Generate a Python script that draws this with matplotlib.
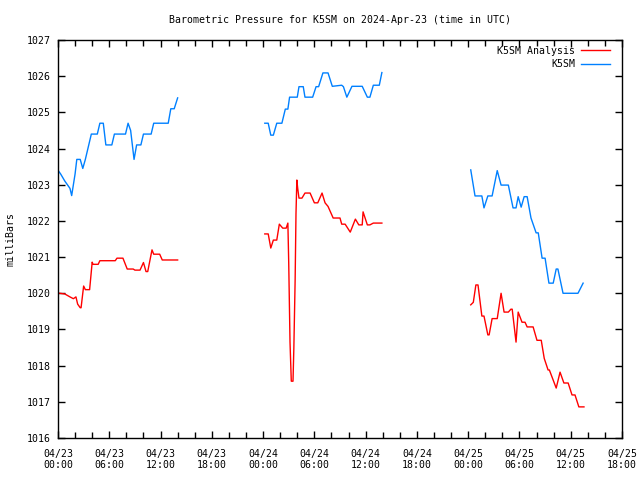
#!/usr/bin/env python3

import numpy as np
import pandas as pd
import matplotlib
matplotlib.use('Agg')
import matplotlib.pyplot as plt
import matplotlib.dates as mdates

# hours since 2024-04-23 00:00 UTC, pressure in mb
# three reporting windows, gaps in between
obs1_h = [0.0, 0.3, 0.8, 1.4, 1.6, 2.0, 2.2, 2.6, 2.9, 3.2, 3.6, 3.9, 4.6, 4.9, 5.3, 5.6,
          6.3, 6.6, 7.9, 8.2, 8.5, 8.9, 9.2, 9.7, 10.0, 10.9, 11.2, 12.9, 13.2, 13.6, 14.0]
obs1_v = [1023.4, 1023.3, 1023.1, 1022.9, 1022.7, 1023.3, 1023.7, 1023.7, 1023.45, 1023.7,
          1024.1, 1024.4, 1024.4, 1024.7, 1024.7, 1024.1, 1024.1, 1024.4, 1024.4, 1024.7,
          1024.5, 1023.7, 1024.1, 1024.1, 1024.4, 1024.4, 1024.7, 1024.7, 1025.1, 1025.1, 1025.4]

obs2_h = [24.2, 24.6, 24.9, 25.2, 25.6, 26.2, 26.6, 26.9, 27.1, 28.0, 28.2, 28.7, 28.9, 29.8,
          30.2, 30.5, 31.0, 31.6, 32.1, 33.2, 33.4, 33.8, 34.4, 35.6, 36.2, 36.5, 36.9, 37.6, 37.9]
obs2_v = [1024.7, 1024.7, 1024.37, 1024.37, 1024.7, 1024.7, 1025.09, 1025.09, 1025.42, 1025.42,
          1025.71, 1025.71, 1025.42, 1025.42, 1025.71, 1025.71, 1026.09, 1026.09, 1025.72, 1025.75,
          1025.71, 1025.42, 1025.72, 1025.72, 1025.42, 1025.42, 1025.75, 1025.75, 1026.1]

obs3_h = [48.3, 48.8, 49.6, 49.85, 50.3, 50.8, 51.4, 51.85, 52.7, 53.25, 53.6, 53.85, 54.2,
          54.55, 54.9, 55.35, 55.95, 56.2, 56.65, 57.0, 57.45, 57.95, 58.3, 58.5, 59.1, 60.85, 61.45]
obs3_v = [1023.41, 1022.69, 1022.69, 1022.36, 1022.69, 1022.69, 1023.39, 1022.99, 1022.99,
          1022.36, 1022.36, 1022.67, 1022.38, 1022.67, 1022.67, 1022.08, 1021.67, 1021.67,
          1020.97, 1020.97, 1020.28, 1020.28, 1020.67, 1020.67, 1020.0, 1020.0, 1020.28]

ana1_h = [0.2, 0.8, 1.4, 1.8, 2.1, 2.3, 2.6, 2.7, 3.0, 3.2, 3.7, 4.0, 4.1, 4.7, 4.9, 6.7, 6.9,
          7.6, 8.1, 8.8, 9.0, 9.6, 10.0, 10.3, 10.5, 11.0, 11.2, 11.9, 12.2, 14.0]
ana1_v = [1020.0, 1019.98, 1019.9, 1019.85, 1019.9, 1019.7, 1019.6, 1019.6, 1020.2, 1020.1,
          1020.1, 1020.86, 1020.8, 1020.8, 1020.9, 1020.9, 1020.97, 1020.97, 1020.67, 1020.67,
          1020.64, 1020.64, 1020.85, 1020.6, 1020.6, 1021.2, 1021.08, 1021.08, 1020.92, 1020.92]

ana2_h = [24.2, 24.6, 24.9, 25.2, 25.6, 25.9, 26.3, 26.7, 26.9, 27.0, 27.15, 27.3, 27.5, 27.6,
          27.75, 27.85, 27.95, 28.05, 28.2, 28.55, 28.9, 29.5, 30.0, 30.4, 30.9, 31.25, 31.6,
          32.2, 33.0, 33.2, 33.6, 34.2, 34.8, 35.2, 35.6, 35.7, 36.2, 36.5, 36.9, 37.9]
ana2_v = [1021.64, 1021.64, 1021.25, 1021.47, 1021.47, 1021.91, 1021.8, 1021.8, 1021.94,
          1020.84, 1018.65, 1017.57, 1017.57, 1018.49, 1020.37, 1022.2, 1023.13, 1022.9,
          1022.63, 1022.63, 1022.77, 1022.77, 1022.5, 1022.5, 1022.77, 1022.5, 1022.4,
          1022.08, 1022.08, 1021.91, 1021.91, 1021.69, 1022.05, 1021.89, 1021.89, 1022.25,
          1021.89, 1021.89, 1021.94, 1021.94]

ana3_h = [48.3, 48.6, 48.9, 49.15, 49.6, 49.85, 50.3, 50.45, 50.8, 51.4, 51.85, 52.2, 52.7,
          53.0, 53.15, 53.6, 53.85, 54.3, 54.65, 54.9, 55.6, 56.05, 56.55, 56.9, 57.35, 57.5,
          58.3, 58.75, 59.2, 59.7, 60.15, 60.5, 60.95, 61.55]
ana3_v = [1019.68, 1019.75, 1020.23, 1020.23, 1019.37, 1019.37, 1018.85, 1018.85, 1019.3,
          1019.3, 1020.0, 1019.48, 1019.48, 1019.56, 1019.56, 1018.65, 1019.48, 1019.2, 1019.2,
          1019.07, 1019.07, 1018.7, 1018.7, 1018.2, 1017.88, 1017.88, 1017.38, 1017.82,
          1017.52, 1017.52, 1017.19, 1017.19, 1016.86, 1016.86]

START = pd.Timestamp('2024-04-23 00:00')
END = pd.Timestamp('2024-04-25 18:00')


def join(*segs):
    # NaN between windows so the line breaks
    hh, vv = [], []
    for h, v in segs:
        if hh:
            hh.append(hh[-1] + 0.01)
            vv.append(np.nan)
        hh += list(h)
        vv += list(v)
    return START + pd.to_timedelta(hh, unit='h'), np.array(vv)


t_obs, v_obs = join((obs1_h, obs1_v), (obs2_h, obs2_v), (obs3_h, obs3_v))
t_ana, v_ana = join((ana1_h, ana1_v), (ana2_h, ana2_v), (ana3_h, ana3_v))

FONT = 'DejaVu Sans Mono'
FS = 7.1
plt.rcParams['font.family'] = FONT
plt.rcParams['font.size'] = FS

fig = plt.figure(figsize=(6.4, 4.8), dpi=100)
ax = fig.add_axes([58 / 640, 42 / 480, 564 / 640, 398 / 480])

l1, = ax.plot(t_ana, v_ana, color='#ff0000', lw=1, label='K5SM Analysis')
l2, = ax.plot(t_obs, v_obs, color='#0080ff', lw=1, label='K5SM')

ax.set_xlim(START, END)
ax.set_ylim(1016, 1027)
ax.set_yticks(np.arange(1016, 1028, 1))
ax.xaxis.set_major_locator(mdates.HourLocator(byhour=range(0, 24, 6)))
ax.xaxis.set_minor_locator(mdates.HourLocator(byhour=range(0, 24, 2)))
ax.xaxis.set_major_formatter(mdates.DateFormatter('%m/%d\n%H:%M'))

ax.tick_params(which='both', direction='in', top=True, right=True, width=1, color='black')
ax.tick_params(which='major', length=5)
ax.tick_params(which='minor', length=4)
ax.tick_params(axis='x', labelsize=FS, pad=8)
ax.tick_params(axis='y', labelsize=FS, pad=5)
for lab in ax.get_xticklabels():
    lab.set_linespacing(1.15)
for s in ax.spines.values():
    s.set_linewidth(1)

ax.set_ylabel('milliBars', fontsize=FS, labelpad=8)
ax.set_title('Barometric Pressure for K5SM on 2024-Apr-23 (time in UTC)', fontsize=FS, pad=12)

leg = ax.legend(handles=[l1, l2], loc='upper right', bbox_to_anchor=(0.99, 1.0),
                frameon=False, markerfirst=False, fontsize=FS, handlelength=3.0,
                handletextpad=0.6, labelspacing=0.35, borderaxespad=0.3, borderpad=0.3)
for col in leg._legend_handle_box.get_children():
    col.align = 'right'

fig.savefig('out.png', dpi=100)
